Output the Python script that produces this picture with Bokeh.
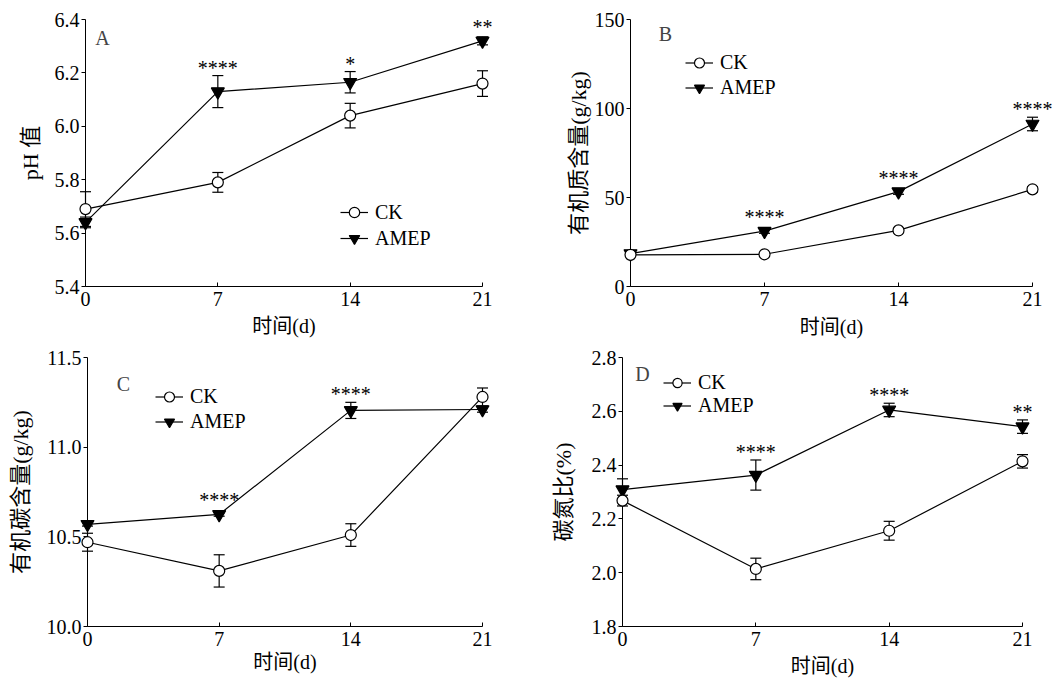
from bokeh.core.properties import value
from bokeh.embed import file_html
from bokeh.layouts import column, row
from bokeh.models import (FixedTicker, Label, Legend, LegendItem,
                          PrintfTickFormatter, Range1d)
from bokeh.plotting import figure
from bokeh.resources import INLINE

# ---- sampling days ----
days = [0, 7, 14, 21]

# ---- A: soil pH ----
ph_ck = [5.69, 5.79, 6.04, 6.16]
ph_ck_sd = [0.065, 0.037, 0.046, 0.048]
ph_amep = [5.64, 6.13, 6.165, 6.32]
ph_amep_sd = [0.02, 0.06, 0.04, 0.015]
ph_sig = ["", "****", "*", "**"]
ph_ticks = [5.4, 5.6, 5.8, 6.0, 6.2, 6.4]

# ---- B: organic matter (g/kg) ----
om_ck = [17.8, 18.1, 31.5, 54.6]
om_ck_sd = [1.0, 1.0, 1.2, 1.5]
om_amep = [18.5, 31.1, 53.3, 91.3]
om_amep_sd = [1.0, 1.2, 1.5, 3.8]
om_sig = ["", "****", "****", "****"]
om_ticks = [0, 50, 100, 150]

# ---- C: organic carbon (g/kg) ----
soc_ck = [10.47, 10.31, 10.51, 11.28]
soc_ck_sd = [0.05, 0.09, 0.063, 0.05]
soc_amep = [10.57, 10.625, 11.205, 11.21]
soc_amep_sd = [0.01, 0.01, 0.045, 0.015]
soc_sig = ["", "****", "****", ""]
soc_ticks = [10.0, 10.5, 11.0, 11.5]

# ---- D: C/N ratio (%) ----
cn_ck = [2.268, 2.014, 2.156, 2.414]
cn_ck_sd = [0.02, 0.04, 0.035, 0.025]
cn_amep = [2.309, 2.363, 2.605, 2.543]
cn_amep_sd = [0.04, 0.056, 0.025, 0.025]
cn_sig = ["", "****", "****", "**"]
cn_ticks = [1.8, 2.0, 2.2, 2.4, 2.6, 2.8]

x_title = "时间(d)"
series_names = ["CK", "AMEP"]

SERIF = "Liberation Serif"
MIXED = "Liberation Serif, Noto Sans CJK SC"
W, H = 527, 340


def build(ck, ck_sd, amep, amep_sd, sig, ticks, fmt, letter, ytitle, g):
    y_lo, y_hi = ticks[0], ticks[-1]
    frame_w = g["R"] - g["L"]
    frame_h = g["B"] - g["T"]

    def dx(px):
        return (px - g["L"]) / frame_w * 21

    def dy(py):
        return y_lo + (g["B"] - py) / frame_h * (y_hi - y_lo)

    p = figure(width=W, height=H,
               x_range=Range1d(0, 21), y_range=Range1d(y_lo, y_hi),
               toolbar_location=None, output_backend="svg",
               min_border_left=g["L"], min_border_right=W - g["R"],
               min_border_top=g["T"], min_border_bottom=H - g["B"])
    p.outline_line_color = None
    p.background_fill_color = "white"
    p.border_fill_color = "white"
    p.xgrid.visible = False
    p.ygrid.visible = False

    p.xaxis.ticker = FixedTicker(ticks=days)
    p.yaxis.ticker = FixedTicker(ticks=ticks)
    p.yaxis.formatter = PrintfTickFormatter(format=fmt)
    for ax in (p.xaxis[0], p.yaxis[0]):
        ax.axis_line_color = "black"
        ax.axis_line_width = 1
        ax.major_tick_line_color = "black"
        ax.major_tick_line_width = 1
        ax.minor_tick_line_color = None
        ax.major_label_text_font = SERIF
        ax.major_label_text_font_size = "20px"
        ax.major_label_text_color = "black"
        ax.axis_label_text_font = MIXED
        ax.axis_label_text_font_style = "normal"
        ax.axis_label_text_color = "black"
    p.xaxis.major_tick_in = 4
    p.xaxis.major_tick_out = 0
    p.xaxis.major_label_standoff = 5
    p.xaxis.axis_label = x_title
    p.xaxis.axis_label_standoff = g["xs"]
    p.xaxis.axis_label_text_font_size = "20px"
    p.yaxis.major_tick_in = 0
    p.yaxis.major_tick_out = 4
    p.yaxis.major_label_standoff = 2
    p.yaxis.axis_label = ytitle
    p.yaxis.axis_label_standoff = g["ys"]
    p.yaxis.axis_label_text_font_size = "22px"

    # data marks sit on the overlay level so points on day 0 / day 21
    # are drawn whole instead of being cut at the frame edge
    rend = {}
    for name, vals, sd, marker, size, fill in (
            ("AMEP", amep, amep_sd, "inverted_triangle", 13, "black"),
            ("CK", ck, ck_sd, "circle", 11, "white")):
        lo = [v - s for v, s in zip(vals, sd)]
        hi = [v + s for v, s in zip(vals, sd)]
        p.segment(days, lo, days, hi, line_color="black", line_width=1.2,
                  level="overlay")
        p.scatter(days + days, lo + hi, marker="dash", size=11,
                  line_color="black", line_width=1.2, level="overlay")
        ln = p.line(days, vals, line_color="black", line_width=1.2,
                    level="overlay")
        mk = p.scatter(days, vals, marker=marker, size=size,
                       fill_color=fill, line_color="black", line_width=1.2,
                       level="overlay")
        rend[name] = (ln, mk)

    # significance marks above the AMEP points
    half = 6 * (y_hi - y_lo) / frame_h
    star_y = [max(v + s, v + half) for v, s in zip(amep, amep_sd)]
    p.text(x=days, y=star_y, text=sig, text_font=value(SERIF),
           text_font_size="20px", text_align="center",
           text_baseline="alphabetic", text_color="black", y_offset=-8,
           level="overlay")

    legend = Legend(
        items=[LegendItem(label=n, renderers=list(rend[n])) for n in series_names],
        location=(g["leg"][0] - g["L"], g["B"] - g["leg"][1]),
        padding=0, margin=0, spacing=0,
        glyph_width=28, glyph_height=g["gh"], label_height=g["gh"],
        label_standoff=7, label_text_font=SERIF, label_text_font_size="20px",
        label_text_color="black", border_line_color=None,
        background_fill_alpha=0)
    p.add_layout(legend)

    p.add_layout(Label(x=dx(g["letter"][0]), y=dy(g["letter"][1]), text=letter,
                       text_font=SERIF, text_font_size="20px",
                       text_align="center", text_baseline="middle"))
    return p


pA = build(ph_ck, ph_ck_sd, ph_amep, ph_amep_sd, ph_sig, ph_ticks, "%.1f",
           "A", "pH 值",
           dict(L=85, R=482, T=19, B=287, leg=(340, 252), gh=26,
                letter=(102, 38), ys=9, xs=6))
pB = build(om_ck, om_ck_sd, om_amep, om_amep_sd, om_sig, om_ticks, "%d",
           "B", "有机质含量(g/kg)",
           dict(L=103, R=505, T=16, B=286, leg=(158, 100), gh=25,
                letter=(138, 31), ys=1, xs=7))
pC = build(soc_ck, soc_ck_sd, soc_amep, soc_amep_sd, soc_sig, soc_ticks, "%.1f",
           "C", "有机碳含量(g/kg)",
           dict(L=87, R=482, T=17, B=286, leg=(155, 94), gh=25,
                letter=(123, 43), ys=11, xs=2))
pD = build(cn_ck, cn_ck_sd, cn_amep, cn_amep_sd, cn_sig, cn_ticks, "%.1f",
           "D", "碳氮比(%)",
           dict(L=95, R=495, T=17, B=286, leg=(136, 77), gh=23,
                letter=(115, 33), ys=13, xs=6))

layout = column(row(pA, pB), row(pC, pD))

open("out.html", "w").write(file_html(layout, INLINE))
